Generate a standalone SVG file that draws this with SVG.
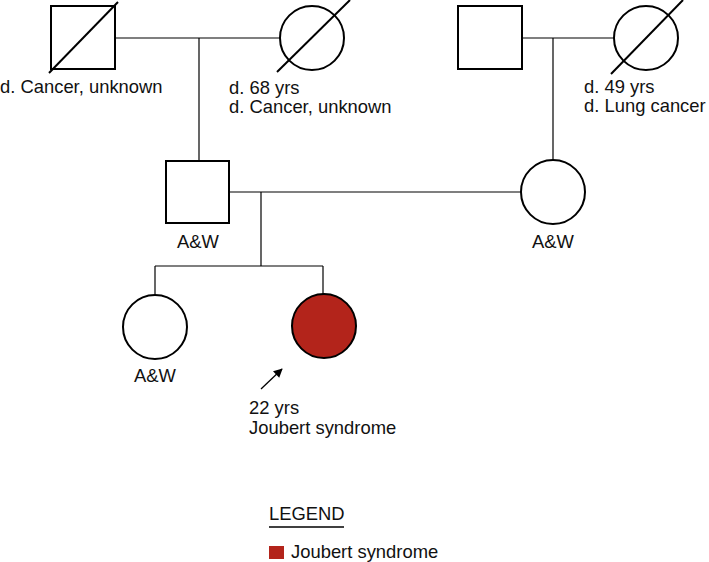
<svg xmlns="http://www.w3.org/2000/svg" width="709" height="562" viewBox="0 0 709 562">
<style>
.n{fill:#fff;stroke:#000;stroke-width:2}
.a{fill:#b3241b;stroke:#000;stroke-width:2}
.c{fill:none;stroke:#000;stroke-width:1.2}
.d{stroke:#000;stroke-width:2}
text{font-family:"Liberation Sans",Arial,sans-serif;font-size:18.4px;fill:#111}
</style>
<defs>
<marker id="ah" viewBox="0 0 10 10" refX="9" refY="5" markerWidth="10" markerHeight="9" orient="auto" markerUnits="userSpaceOnUse"><path d="M0,0L10,5L0,10z" fill="#000"/></marker>
</defs>
<rect width="709" height="562" fill="#fff"/>
<g id="connectors">
<line class="c" x1="115" y1="38" x2="280" y2="38"/>
<line class="c" x1="199" y1="38" x2="199" y2="161"/>
<line class="c" x1="522" y1="38" x2="614" y2="38"/>
<line class="c" x1="553" y1="38" x2="553" y2="160"/>
<line class="c" x1="229" y1="192" x2="521" y2="192"/>
<line class="c" x1="261" y1="192" x2="261" y2="266"/>
<line class="c" x1="155" y1="266" x2="323" y2="266"/>
<line class="c" x1="155" y1="266" x2="155" y2="295"/>
<line class="c" x1="323" y1="266" x2="323" y2="294"/>
<line x1="261" y1="389" x2="282" y2="369" stroke="#000" stroke-width="1.3" marker-end="url(#ah)"/>
</g>
<g id="gf">
<rect class="n" x="51" y="6" width="64" height="63"/>
<line class="d" x1="49" y1="73" x2="118" y2="2"/>
<text x="0" y="93">d. Cancer, unknown</text>
</g>
<g id="gm">
<circle class="n" cx="312" cy="38" r="32"/>
<line class="d" x1="277" y1="72" x2="350" y2="0"/>
<text x="229" y="94">d. 68 yrs</text>
<text x="229" y="113">d. Cancer, unknown</text>
</g>
<g id="mgf">
<rect class="n" x="458" y="6" width="64" height="63"/>
</g>
<g id="mgm">
<circle class="n" cx="646" cy="38" r="32"/>
<line class="d" x1="611" y1="74" x2="683" y2="0"/>
<text x="584" y="93">d. 49 yrs</text>
<text x="584" y="112">d. Lung cancer</text>
</g>
<g id="father">
<rect class="n" x="166" y="161" width="63" height="62"/>
<text x="198" y="248" text-anchor="middle">A&amp;W</text>
</g>
<g id="mother">
<circle class="n" cx="553" cy="192" r="32"/>
<text x="553" y="248" text-anchor="middle">A&amp;W</text>
</g>
<g id="sister">
<circle class="n" cx="155" cy="327" r="32"/>
<text x="155" y="382" text-anchor="middle">A&amp;W</text>
</g>
<g id="proband">
<circle class="a" cx="324" cy="326" r="32"/>
<text x="249" y="414">22 yrs</text>
<text x="249" y="434">Joubert syndrome</text>
</g>
<g id="legend">
<text x="269" y="520">LEGEND</text>
<line x1="269" y1="527" x2="344" y2="527" stroke="#000" stroke-width="1.5"/>
<rect x="269" y="546" width="15" height="13" fill="#b3241b"/>
<text x="291" y="558">Joubert syndrome</text>
</g>
</svg>
